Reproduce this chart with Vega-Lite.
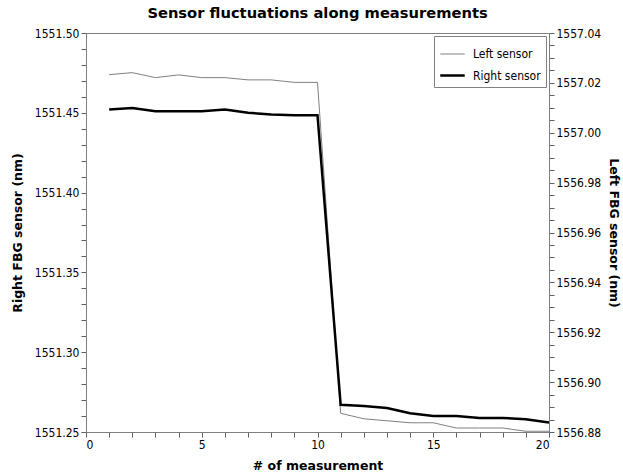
{
  "$schema": "https://vega.github.io/schema/vega-lite/v6.json",
  "width": 463,
  "height": 399,
  "autosize": {"type": "none"},
  "padding": {"left": 86, "top": 33, "right": 74, "bottom": 42},
  "background": "white",
  "title": {"text": "Sensor fluctuations along measurements", "font": "DejaVu Sans", "fontSize": 14.7, "fontWeight": "bold", "color": "black", "offset": 6, "anchor": "middle"},
  "config": {
    "view": {"stroke": "#808080", "strokeWidth": 1},
    "axis": {"grid": false, "domainColor": "#808080", "tickColor": "#606060", "labelColor": "black", "labelFont": "DejaVu Sans Condensed, Liberation Sans", "labelFontSize": 12, "titleFont": "DejaVu Sans", "titleFontSize": 12.5, "titleFontWeight": "bold", "titleColor": "black", "tickSize": 5},
    "legend": {"labelFont": "DejaVu Sans Condensed, Liberation Sans", "labelFontSize": 12, "labelColor": "black"}
  },
  "data": {"values": [
    {"x": 1, "sensor": "Right sensor", "value": 1551.452},
    {"x": 2, "sensor": "Right sensor", "value": 1551.453},
    {"x": 3, "sensor": "Right sensor", "value": 1551.451},
    {"x": 4, "sensor": "Right sensor", "value": 1551.451},
    {"x": 5, "sensor": "Right sensor", "value": 1551.451},
    {"x": 6, "sensor": "Right sensor", "value": 1551.452},
    {"x": 7, "sensor": "Right sensor", "value": 1551.450},
    {"x": 8, "sensor": "Right sensor", "value": 1551.449},
    {"x": 9, "sensor": "Right sensor", "value": 1551.4485},
    {"x": 10, "sensor": "Right sensor", "value": 1551.4485},
    {"x": 11, "sensor": "Right sensor", "value": 1551.267},
    {"x": 12, "sensor": "Right sensor", "value": 1551.2663},
    {"x": 13, "sensor": "Right sensor", "value": 1551.265},
    {"x": 14, "sensor": "Right sensor", "value": 1551.2617},
    {"x": 15, "sensor": "Right sensor", "value": 1551.260},
    {"x": 16, "sensor": "Right sensor", "value": 1551.260},
    {"x": 17, "sensor": "Right sensor", "value": 1551.2588},
    {"x": 18, "sensor": "Right sensor", "value": 1551.2588},
    {"x": 19, "sensor": "Right sensor", "value": 1551.258},
    {"x": 20, "sensor": "Right sensor", "value": 1551.256},
    {"x": 1, "sensor": "Left sensor", "value": 1557.0233},
    {"x": 2, "sensor": "Left sensor", "value": 1557.0241},
    {"x": 3, "sensor": "Left sensor", "value": 1557.0221},
    {"x": 4, "sensor": "Left sensor", "value": 1557.0232},
    {"x": 5, "sensor": "Left sensor", "value": 1557.0221},
    {"x": 6, "sensor": "Left sensor", "value": 1557.0221},
    {"x": 7, "sensor": "Left sensor", "value": 1557.0212},
    {"x": 8, "sensor": "Left sensor", "value": 1557.0212},
    {"x": 9, "sensor": "Left sensor", "value": 1557.0202},
    {"x": 10, "sensor": "Left sensor", "value": 1557.0202},
    {"x": 11, "sensor": "Left sensor", "value": 1556.8875},
    {"x": 12, "sensor": "Left sensor", "value": 1556.8853},
    {"x": 13, "sensor": "Left sensor", "value": 1556.8845},
    {"x": 14, "sensor": "Left sensor", "value": 1556.8837},
    {"x": 15, "sensor": "Left sensor", "value": 1556.8837},
    {"x": 16, "sensor": "Left sensor", "value": 1556.8816},
    {"x": 17, "sensor": "Left sensor", "value": 1556.8816},
    {"x": 18, "sensor": "Left sensor", "value": 1556.8816},
    {"x": 19, "sensor": "Left sensor", "value": 1556.8803},
    {"x": 20, "sensor": "Left sensor", "value": 1556.8803}
  ]},
  "encoding": {
    "x": {"field": "x", "type": "quantitative", "scale": {"domain": [0, 20], "nice": false},
      "axis": {"title": "# of measurement", "values": [0,1,2,3,4,5,6,7,8,9,10,11,12,13,14,15,16,17,18,19,20], "labelExpr": "datum.value % 5 == 0 ? datum.label : ''", "titlePadding": 9}},
    "color": {"field": "sensor", "type": "nominal", "scale": {"domain": ["Left sensor", "Right sensor"], "range": ["#808080", "#000000"]},
      "legend": {"title": null, "orient": "top-right", "offset": 3, "symbolType": "stroke", "symbolSize": 600, "labelOffset": 7, "fillColor": "white", "strokeColor": "#808080", "padding": 5, "rowPadding": 2}},
    "strokeWidth": {"field": "sensor", "type": "nominal", "scale": {"domain": ["Left sensor", "Right sensor"], "range": [1, 2.5]}, "legend": {"title": null}}
  },
  "layer": [
    {
      "transform": [{"filter": "datum.sensor == 'Left sensor'"}],
      "mark": {"type": "line", "clip": true},
      "encoding": {
        "y": {"field": "value", "type": "quantitative", "scale": {"domain": [1556.88, 1557.04], "nice": false, "zero": false},
          "axis": {"orient": "right", "title": "Left FBG sensor (nm)", "values": [1556.88,1556.885,1556.89,1556.895,1556.9,1556.905,1556.91,1556.915,1556.92,1556.925,1556.93,1556.935,1556.94,1556.945,1556.95,1556.955,1556.96,1556.965,1556.97,1556.975,1556.98,1556.985,1556.99,1556.995,1557.0,1557.005,1557.01,1557.015,1557.02,1557.025,1557.03,1557.035,1557.04],
            "labelExpr": "abs(round(datum.value*1000) % 20) == 0 ? format(datum.value, '.2f') : ''", "titlePadding": 6}}
      }
    },
    {
      "transform": [{"filter": "datum.sensor == 'Right sensor'"}],
      "mark": {"type": "line", "clip": true},
      "encoding": {
        "y": {"field": "value", "type": "quantitative", "scale": {"domain": [1551.25, 1551.5], "nice": false, "zero": false},
          "axis": {"orient": "left", "title": "Right FBG sensor (nm)", "values": [1551.25,1551.26,1551.27,1551.28,1551.29,1551.3,1551.31,1551.32,1551.33,1551.34,1551.35,1551.36,1551.37,1551.38,1551.39,1551.4,1551.41,1551.42,1551.43,1551.44,1551.45,1551.46,1551.47,1551.48,1551.49,1551.5],
            "labelExpr": "abs(round(datum.value*100) % 5) == 0 ? format(datum.value, '.2f') : ''", "titlePadding": 10}}
      }
    }
  ],
  "resolve": {"scale": {"y": "independent"}}
}
